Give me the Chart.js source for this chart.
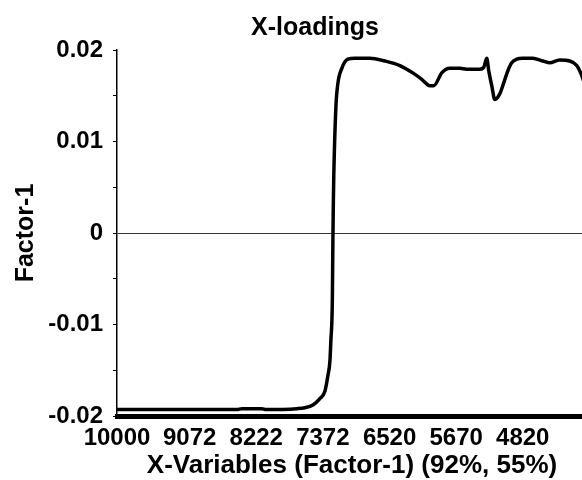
<!DOCTYPE html>
<html>
<head>
<meta charset="utf-8">
<title>X-loadings</title>
<script src="https://cdn.jsdelivr.net/npm/chart.js@4.4.0/dist/chart.umd.min.js"></script>
<style>
    html, body { margin: 0; padding: 0; background: #fff; overflow: hidden; }
    #wrap { width: 582px; height: 480px; overflow: hidden; }
</style>
</head>
<body>
<div id="wrap"><canvas id="loadingsChart" width="630" height="480"></canvas></div>
<script>
// Eixo x: número de onda (cm-1)
const wavenumbers = [10000, 9451, 8941, 8469, 8405, 8150, 8099, 7704, 7601, 7499,
    7410, 7346, 7308, 7282, 7270, 7251, 7244, 7238, 7232, 7206,
    7181, 7130, 7053, 6964, 6772, 6581, 6389, 6224, 6109, 6007,
    5956, 5854, 5752, 5624, 5535, 5369, 5318, 5280, 5254, 5216,
    5177, 5114, 5063, 5012, 4961, 4897, 4820, 4693, 4565, 4476,
    4348, 4221, 4131, 4067, 4003];

// Loadings do Factor-1
const loadings = [-0.0193, -0.0193, -0.0193, -0.0193, -0.0192, -0.0192, -0.0193, -0.0192, -0.0191, -0.0188,
    -0.0181, -0.0173, -0.0156, -0.0140, -0.0118, -0.0074, -0.0009, 0.0035, 0.0065, 0.0137,
    0.0163, 0.0180, 0.0190, 0.0191, 0.0191, 0.0188, 0.0183, 0.0175, 0.0168, 0.0161,
    0.0161, 0.0175, 0.0180, 0.0180, 0.0179, 0.0179, 0.0181, 0.0191, 0.0177, 0.0161,
    0.0146, 0.0152, 0.0164, 0.0177, 0.0186, 0.0190, 0.0191, 0.0191, 0.0188, 0.0186,
    0.0189, 0.0188, 0.0183, 0.0172, 0.0155];

const xTickValues = [10000, 9072, 8222, 7372, 6520, 5670, 4820];
const yTickValues = [-0.02, -0.015, -0.01, -0.005, 0, 0.005, 0.01, 0.015, 0.02];

const fontFamily = '"Liberation Sans", Arial, Helvetica, sans-serif';

const loadingsData = {
    datasets: [
        {
            label: 'Factor-1',
            data: wavenumbers.map((w, i) => ({ x: w, y: loadings[i] })),
            borderColor: '#000',
            borderWidth: 3.5,
            pointRadius: 0,
            cubicInterpolationMode: 'monotone',
            fill: false
        }
    ]
};

const loadingsConfig = {
    type: 'line',
    data: loadingsData,
    options: {
        responsive: false,
        animation: false,
        layout: { padding: 0 },
        plugins: {
            legend: { display: false },
            tooltip: { enabled: false },
            title: {
                display: true,
                text: 'X-loadings',
                color: '#000',
                font: { family: fontFamily, size: 25, weight: 'bold' },
                padding: { top: 13, bottom: 7 }
            }
        },
        scales: {
            x: {
                type: 'linear',
                reverse: true,
                min: 4000,
                max: 10000,
                afterBuildTicks: axis => { axis.ticks = xTickValues.map(v => ({ value: v })); },
                afterFit: axis => { axis.height = 64; },
                grid: { display: false },
                border: { display: true, color: '#000', width: 5 },
                ticks: {
                    autoSkip: false,
                    maxRotation: 0,
                    padding: 0,
                    color: '#000',
                    font: { family: fontFamily, size: 24, weight: 'bold' },
                    callback: v => String(v)
                },
                title: {
                    display: true,
                    text: 'X-Variables (Factor-1) (92%, 55%)',
                    color: '#000',
                    font: { family: fontFamily, size: 26, weight: 'bold', lineHeight: 1 },
                    padding: { top: 0, bottom: 1 }
                }
            },
            y: {
                min: -0.02,
                max: 0.02,
                afterBuildTicks: axis => { axis.ticks = yTickValues.map(v => ({ value: v })); },
                afterFit: axis => { axis.width = 117; },
                grid: {
                    color: ctx => (ctx.tick && Math.abs(ctx.tick.value) < 1e-9) ? '#333' : 'rgba(0,0,0,0)',
                    tickColor: '#000',
                    tickLength: 4,
                    lineWidth: 1
                },
                border: { display: true, color: '#000', width: 1.5 },
                ticks: {
                    padding: 10,
                    color: '#000',
                    font: { family: fontFamily, size: 24, weight: 'bold' },
                    callback: v => {
                        const n = Math.round(v * 1000);
                        if (n % 10 !== 0) return '';
                        return n === 0 ? '0' : (n / 1000).toFixed(2);
                    }
                },
                title: {
                    display: true,
                    text: 'Factor-1',
                    color: '#000',
                    font: { family: fontFamily, size: 25, weight: 'bold', lineHeight: 1.2 },
                    padding: { top: 11, bottom: 0 }
                }
            },
            // espaço vazio à direita (o gráfico original continua além da imagem)
            yRight: {
                position: 'right',
                display: true,
                afterFit: axis => { axis.width = 43; },
                grid: { display: false },
                border: { display: false },
                ticks: { display: false }
            }
        }
    }
};

var loadingsChart = new Chart(
    document.getElementById('loadingsChart'),
    loadingsConfig
);
</script>
</body>
</html>
